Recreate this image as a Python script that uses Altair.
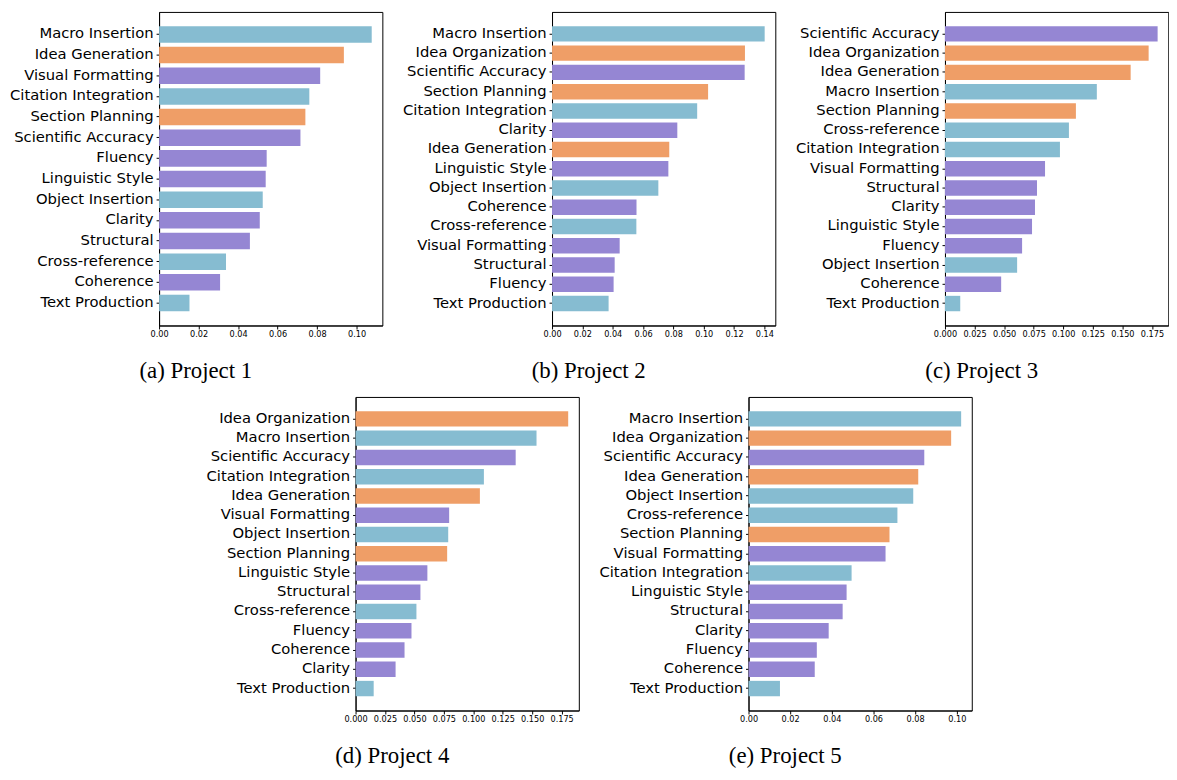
import altair as alt
import pandas as pd

# ---- data ----
p1_labels = ["Macro Insertion", "Idea Generation", "Visual Formatting", "Citation Integration",
             "Section Planning", "Scientific Accuracy", "Fluency", "Linguistic Style",
             "Object Insertion", "Clarity", "Structural", "Cross-reference", "Coherence",
             "Text Production"]
p1_values = [0.1077, 0.0936, 0.0816, 0.0761, 0.0741, 0.0716, 0.0545, 0.0540, 0.0525,
             0.0510, 0.0460, 0.0339, 0.0309, 0.0154]

p2_labels = ["Macro Insertion", "Idea Organization", "Scientific Accuracy", "Section Planning",
             "Citation Integration", "Clarity", "Idea Generation", "Linguistic Style",
             "Object Insertion", "Coherence", "Cross-reference", "Visual Formatting",
             "Structural", "Fluency", "Text Production"]
p2_values = [0.1402, 0.1272, 0.1270, 0.1029, 0.0957, 0.0826, 0.0773, 0.0767, 0.0701,
             0.0557, 0.0556, 0.0446, 0.0413, 0.0406, 0.0373]

p3_labels = ["Scientific Accuracy", "Idea Organization", "Idea Generation", "Macro Insertion",
             "Section Planning", "Cross-reference", "Citation Integration", "Visual Formatting",
             "Structural", "Clarity", "Linguistic Style", "Fluency", "Object Insertion",
             "Coherence", "Text Production"]
p3_values = [0.1798, 0.1722, 0.1570, 0.1284, 0.1107, 0.1048, 0.0972, 0.0846, 0.0778,
             0.0761, 0.0736, 0.0652, 0.0610, 0.0475, 0.0129]

p4_labels = ["Idea Organization", "Macro Insertion", "Scientific Accuracy", "Citation Integration",
             "Idea Generation", "Visual Formatting", "Object Insertion", "Section Planning",
             "Linguistic Style", "Structural", "Cross-reference", "Fluency", "Coherence",
             "Clarity", "Text Production"]
p4_values = [0.1806, 0.1537, 0.1360, 0.1090, 0.1056, 0.0795, 0.0787, 0.0778, 0.0610,
             0.0551, 0.0517, 0.0475, 0.0416, 0.0340, 0.0154]

p5_labels = ["Macro Insertion", "Idea Organization", "Scientific Accuracy", "Idea Generation",
             "Object Insertion", "Cross-reference", "Section Planning", "Visual Formatting",
             "Citation Integration", "Linguistic Style", "Structural", "Clarity", "Fluency",
             "Coherence", "Text Production"]
p5_values = [0.1021, 0.0973, 0.0844, 0.0815, 0.0791, 0.0715, 0.0677, 0.0658, 0.0495,
             0.0471, 0.0452, 0.0385, 0.0328, 0.0318, 0.0151]

ticks_a = [0.00, 0.02, 0.04, 0.06, 0.08, 0.10]
ticks_b = [0.00, 0.02, 0.04, 0.06, 0.08, 0.10, 0.12, 0.14]
ticks_c = [0.000, 0.025, 0.050, 0.075, 0.100, 0.125, 0.150, 0.175]

captions = ["(a) Project 1", "(b) Project 2", "(c) Project 3", "(d) Project 4", "(e) Project 5"]

planning = ["Idea Generation", "Idea Organization", "Section Planning"]
implementation = ["Macro Insertion", "Citation Integration", "Object Insertion",
                  "Cross-reference", "Text Production"]
revision = ["Visual Formatting", "Scientific Accuracy", "Fluency", "Linguistic Style",
            "Clarity", "Structural", "Coherence"]
group_names = ["Planning", "Implementation", "Revision"]
group_colors = ["#EF9E67", "#86BCD1", "#9586D3"]


def group_of(label):
    if label in planning:
        return "Planning"
    if label in implementation:
        return "Implementation"
    return "Revision"


def panel(labels, values, ticks, fmt, caption):
    df = pd.DataFrame({"label": labels, "value": values,
                       "group": [group_of(l) for l in labels]})
    n = len(labels)
    pad_outer = 0.05 * (n - 0.2)
    dmax = max(values) * 1.05
    return alt.Chart(df).mark_bar().encode(
        y=alt.Y("label:N", sort=labels, title=None,
                scale=alt.Scale(paddingInner=0.2, paddingOuter=pad_outer),
                axis=alt.Axis(tickSize=3, labelPadding=3, minExtent=151, maxExtent=151,
                              labelFontSize=14.9, labelFont="DejaVu Sans",
                              labelColor="black", tickColor="black", domainColor="black",
                              labelLimit=300)),
        x=alt.X("value:Q", title=None,
                scale=alt.Scale(domain=[0, dmax], nice=False, zero=True),
                axis=alt.Axis(values=ticks, format=fmt, tickSize=3.5, labelPadding=2,
                              labelFontSize=8.2, labelFont="DejaVu Sans",
                              labelColor="black", tickColor="black", domainColor="black",
                              grid=False, labelFlush=False, labelOverlap=False)),
        color=alt.Color("group:N", legend=None,
                        scale=alt.Scale(domain=group_names, range=group_colors)),
    ).properties(
        width=225, height=316,
        title=alt.TitleParams(caption, orient="bottom", frame="bounds", anchor="middle",
                              font="Liberation Serif", fontSize=23, fontWeight="normal",
                              color="black", offset=22),
    )


a = panel(p1_labels, p1_values, ticks_a, ".2f", captions[0])
b = panel(p2_labels, p2_values, ticks_b, ".2f", captions[1])
c = panel(p3_labels, p3_values, ticks_c, ".3f", captions[2])
d = panel(p4_labels, p4_values, ticks_c, ".3f", captions[3])
e = panel(p5_labels, p5_values, ticks_a, ".2f", captions[4])

row1 = alt.hconcat(a, b, c, spacing=18)
row2 = alt.hconcat(d, e, spacing=18)

chart = alt.vconcat(row1, row2, spacing=12, center=True).properties(
    padding={"left": 0, "top": 0, "right": 0, "bottom": 0}
).configure_view(
    stroke="black", strokeWidth=1
).configure_axis(
    domainWidth=1, tickWidth=1
)

chart.save("out.html", embed_options={"renderer": "svg", "actions": False})
